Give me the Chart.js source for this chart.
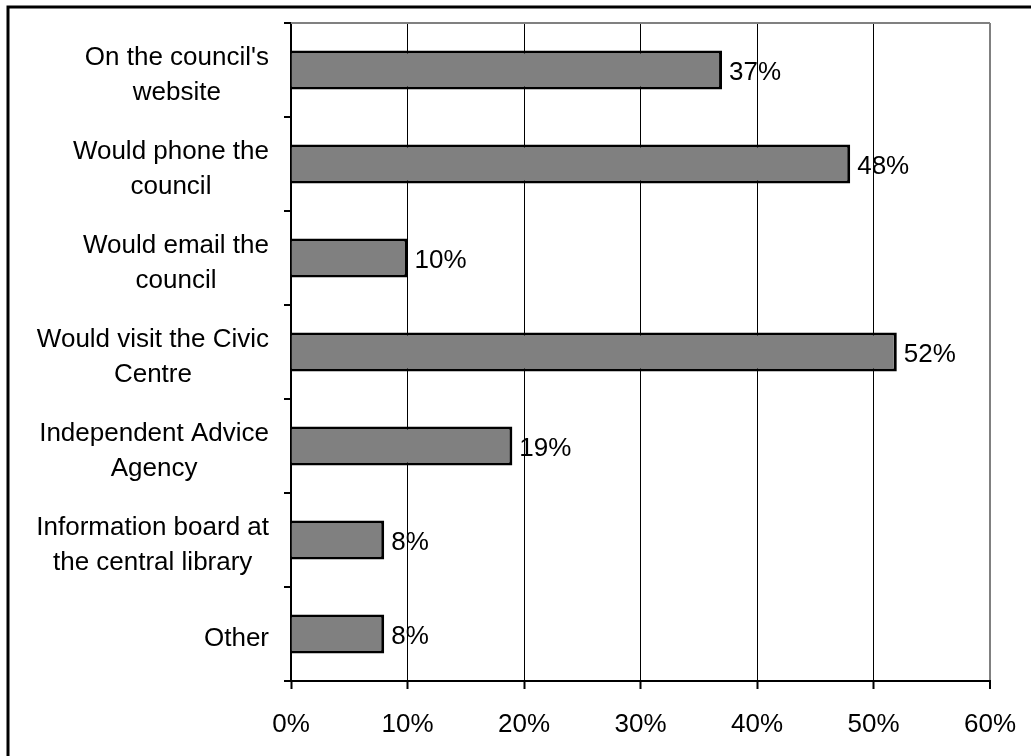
<!DOCTYPE html>
<html>
<head>
<meta charset="utf-8">
<script src="https://cdn.jsdelivr.net/npm/chart.js@4/dist/chart.umd.min.js"></script>
<style>
  html, body { margin: 0; padding: 0; background: #fff; }
  #wrap { width: 1031px; height: 756px; position: relative; }
</style>
</head>
<body>
<div id="wrap"><canvas id="bars"></canvas></div>
<script>
const categories = [
  ["On the council's", 'website'],
  ['Would phone the', 'council'],
  ['Would email the', 'council'],
  ['Would visit the Civic', 'Centre'],
  ['Independent Advice', 'Agency'],
  ['Information board at', 'the central library'],
  ['Other'],
];
const shares = [37, 48, 10, 52, 19, 8, 8];
const xTicks = [0, 10, 20, 30, 40, 50, 60];

const FONT = '"Liberation Sans", Arial, sans-serif';
const PLOT_LEFT = 291;

// frame, plot border, category names and value labels
const extras = {
  id: 'extras',
  beforeDatasetsDraw(chart) {
    const { ctx, chartArea: a } = chart;
    ctx.save();
    ctx.strokeStyle = '#808080';
    ctx.lineWidth = 2;
    ctx.beginPath();
    ctx.moveTo(a.left, a.top);
    ctx.lineTo(a.right, a.top);
    ctx.stroke();
    ctx.restore();
  },
  afterDraw(chart) {
    const { ctx } = chart;
    const y = chart.scales.y;
    ctx.save();

    ctx.strokeStyle = '#000';
    ctx.lineWidth = 3;
    ctx.beginPath();
    ctx.moveTo(8, 800);
    ctx.lineTo(8, 7);
    ctx.lineTo(1040, 7);
    ctx.stroke();

    ctx.fillStyle = '#000';
    ctx.font = '26px ' + FONT;
    ctx.textAlign = 'center';
    ctx.textBaseline = 'middle';
    categories.forEach((lines, i) => {
      const cy = y.getPixelForValue(i);
      const w = Math.max(...lines.map(l => ctx.measureText(l).width));
      const cx = 269 - w / 2;
      const lh = 35;
      const top = cy - (lines.length - 1) * lh / 2;
      lines.forEach((l, j) => ctx.fillText(l, cx, top + j * lh + 5));
    });

    ctx.textAlign = 'left';
    chart.getDatasetMeta(0).data.forEach((bar, i) => {
      ctx.fillText(shares[i] + '%', bar.x + 7, bar.y + 3);
    });
    ctx.restore();
  },
};

const data = {
  labels: categories,
  datasets: [{
    data: shares,
    backgroundColor: '#808080',
    borderColor: '#000',
    borderWidth: 3,
    borderSkipped: 'start',
    barPercentage: 0.415,
    categoryPercentage: 1,
  }],
};

const config = {
  type: 'bar',
  data: data,
  options: {
    indexAxis: 'y',
    responsive: false,
    animation: false,
    layout: {
      padding: { top: 23, right: 41, bottom: 0, left: 0 },
    },
    plugins: {
      legend: { display: false },
      tooltip: { enabled: false },
    },
    scales: {
      x: {
        min: xTicks[0],
        max: xTicks[xTicks.length - 1],
        afterBuildTicks: (scale) => {
          scale.ticks = xTicks.map(v => ({ value: v }));
        },
        afterFit: (scale) => {
          scale.height = 75;
          scale.paddingLeft = 0;
          scale.paddingRight = 0;
        },
        ticks: {
          color: '#000',
          font: { family: FONT, size: 26 },
          padding: 20,
          maxRotation: 0,
          callback: (v) => v + '%',
        },
        grid: {
          color: (c) => (c.tick && c.tick.value === 60 ? '#808080' : '#000'),
          lineWidth: (c) => (c.tick && c.tick.value === 60 ? 2 : 1),
          tickColor: '#000',
          tickWidth: 2,
          tickLength: 8,
        },
        border: { color: '#000', width: 2 },
      },
      y: {
        afterFit: (scale) => { scale.width = PLOT_LEFT; },
        ticks: { display: false },
        grid: {
          offset: true,
          drawOnChartArea: false,
          color: '#000',
          lineWidth: 2,
          tickLength: 7,
        },
        border: { color: '#000', width: 2 },
      },
    },
  },
  plugins: [extras],
};

const canvas = document.getElementById('bars');
canvas.width = 1031;
canvas.height = 756;
new Chart(canvas, config);
</script>
</body>
</html>
